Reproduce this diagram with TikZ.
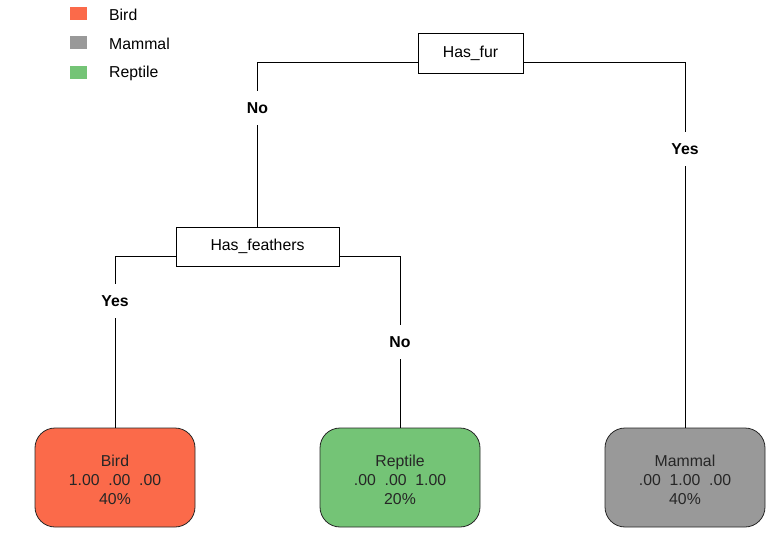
\documentclass[tikz,border=0pt]{standalone}
\usepackage{fontspec}
\setmainfont{Liberation Sans}
\definecolor{birdc}{HTML}{FB6A4A}
\definecolor{mammc}{HTML}{999999}
\definecolor{reptc}{HTML}{74C476}
\begin{document}
\begin{tikzpicture}[x=1pt,y=-1pt,
  every node/.style={font=\fontsize{15.8}{19}\selectfont},
  split/.style={draw=black, line width=0.8pt, fill=white, inner sep=0pt},
  leaf/.style={draw=black!85, line width=0.8pt, rounded corners=20pt, minimum width=160pt, minimum height=99pt, inner sep=0pt},
  leaftext/.style={inner sep=0pt, align=center, text=black!85},
  elab/.style={font=\fontsize{15.8}{19}\selectfont\bfseries, inner sep=0pt, minimum height=34pt, minimum width=30pt},
  conn/.style={draw=black, line width=0.8pt},
  legsq/.style={minimum width=17pt, minimum height=13pt, inner sep=0pt}]
\useasboundingbox (0,0) rectangle (768,537);
% legend
\node[legsq, fill=birdc] (lb) at (78.5,13.5) {};
\node[legsq, fill=mammc] (lm) at (78.5,42.5) {};
\node[legsq, fill=reptc] (lr) at (78.5,72.5) {};
\node[anchor=west, inner sep=0pt] (tb) at (109,14.5) {Bird};
\node[anchor=west, inner sep=0pt] (tm) at (109,43.5) {Mammal};
\node[anchor=west, inner sep=0pt] (tr) at (109,73.5) {Reptile};
% split nodes
\node[split, minimum width=105pt, minimum height=40pt] (fur) at (470.5,53) {Has\_fur};
\node[split, minimum width=163pt, minimum height=39pt] (feat) at (257.5,246.5) {Has\_feathers};
% leaves
\node[leaf, fill=birdc] (bird) at (115,477.5) {};
\node[leaf, fill=reptc] (rept) at (400,477.5) {};
\node[leaf, fill=mammc] (mamm) at (685,477.5) {};
\node[leaftext] (birdt) at (115,480) {Bird\\1.00~~.00~~.00\\40\%};
\node[leaftext] (reptt) at (400,480) {Reptile\\.00~~.00~~1.00\\20\%};
\node[leaftext] (mammt) at (685,480) {Mammal\\.00~~1.00~~.00\\40\%};
% edge labels
\node[elab] (no1) at (257.5,108) {No};
\node[elab] (yes1) at (685,149) {Yes};
\node[elab] (yes2) at (115,301) {Yes};
\node[elab] (no2) at (400,342) {No};
% connectors
\path[conn] ([yshift=-9pt]fur.west) -| (no1.north);
\path[conn] (no1.south) -- (feat.north);
\path[conn] ([yshift=-9pt]fur.east) -| (yes1.north);
\path[conn] (yes1.south) -- (mamm.north);
\path[conn] ([yshift=-9.5pt]feat.west) -| (yes2.north);
\path[conn] (yes2.south) -- (bird.north);
\path[conn] ([yshift=-9.5pt]feat.east) -| (no2.north);
\path[conn] (no2.south) -- (rept.north);
\end{tikzpicture}
\end{document}
